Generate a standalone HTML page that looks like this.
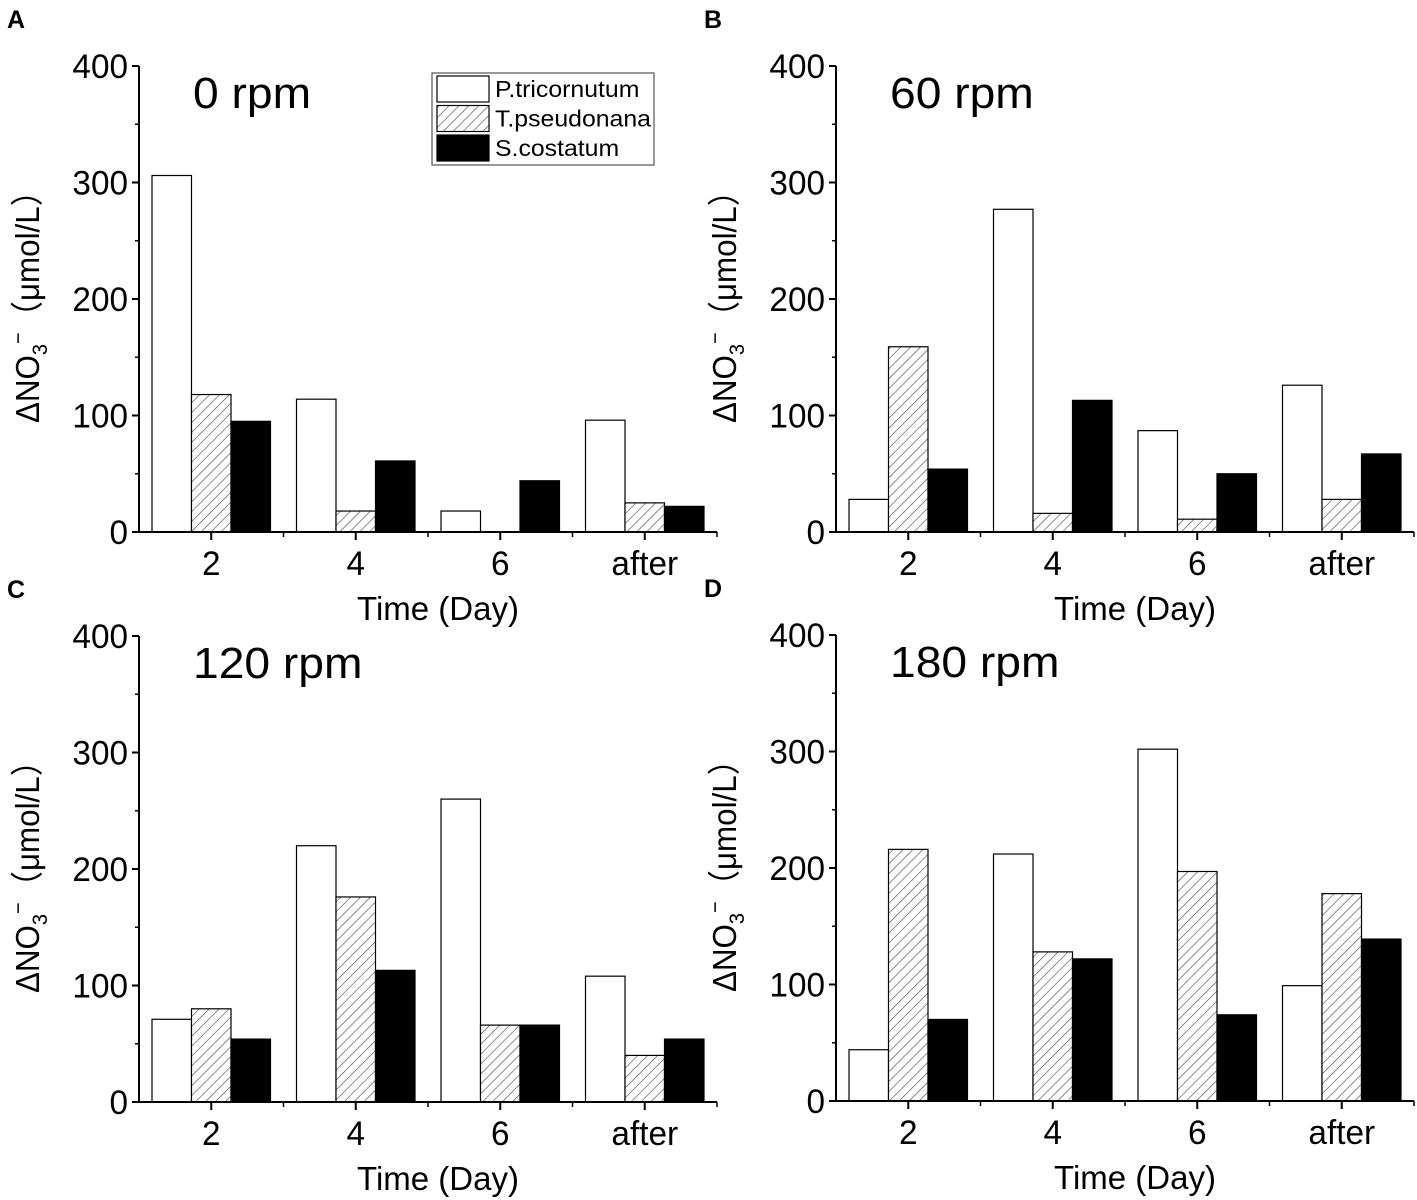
<!DOCTYPE html>
<html><head><meta charset="utf-8"><style>
html,body{margin:0;padding:0;background:#fff;}
svg{display:block;font-family:"Liberation Sans",Arial,sans-serif;}
</style></head><body>
<svg id="fig" width="1417" height="1200" viewBox="0 0 1417 1200" xmlns="http://www.w3.org/2000/svg">
<defs>
<pattern id="hatch" patternUnits="userSpaceOnUse" width="7" height="7" patternTransform="rotate(45)">
<rect width="7" height="7" fill="#fff"/><line x1="0" y1="0" x2="0" y2="7" stroke="#444" stroke-width="1.2"/>
</pattern>
</defs>
</svg>
<script>
const categories = ["2","4","6","after"];
const seriesNames = ["P.tricornutum","T.pseudonana","S.costatum"];
const yTicks = [0,100,200,300,400];
const panelLetters = ["A","B","C","D"];
const panelTitles = ["0 rpm","60 rpm","120 rpm","180 rpm"];
const aPtri = [306,114,18,96];
const aTpse = [118,18,0,25];
const aScos = [95,61,44,22];
const bPtri = [28,277,87,126];
const bTpse = [159,16,11,28];
const bScos = [54,113,50,67];
const cPtri = [71,220,260,108];
const cTpse = [80,176,66,40];
const cScos = [54,113,66,54];
const dPtri = [44,212,302,99];
const dTpse = [216,128,197,178];
const dScos = [70,122,74,139];
const panelData = [[aPtri,aTpse,aScos],[bPtri,bTpse,bScos],[cPtri,cTpse,cScos],[dPtri,dTpse,dScos]];

const svg = document.getElementById('fig');
const NS = "http://www.w3.org/2000/svg";
function mk(tag, attrs, parent){const e=document.createElementNS(NS,tag);for(const k in attrs)e.setAttribute(k,attrs[k]);(parent||svg).appendChild(e);return e;}
function ntext(x,y,size,anchor,parent,sx){return mk('text',{transform:`translate(${x},${y}) scale(${sx||1},1)`,'font-size':size,'text-anchor':anchor},parent);}
const fills = ["#fff","url(#hatch)","#000"];
const layouts = [{x0:139,y0:532},{x0:836,y0:532},{x0:139,y0:1102},{x0:836,y0:1101}];
const plotW = 578, plotH = 466, yMax = 400;

layouts.forEach((L,p)=>{
  const g = mk('g',{});
  
  
  const yS = v => L.y0 - v/yMax*plotH;
  const step = plotW/categories.length;
  const xC = i => L.x0 + step*(i+0.5);
  const bw = 39.5;
  const lt = mk('text',{x:L.x0-132,y:L.y0-504,'font-size':25,'font-weight':'bold'},g);
  lt.textContent = panelLetters[p];
  
  
  panelData[p].forEach((ser,s)=>{
    ser.forEach((v,i)=>{
      const x = xC(i) - bw*1.5 + s*bw;
      const r = mk('rect',{x:x,y:yS(v),width:bw,height:L.y0-yS(v),fill:fills[s],stroke:'#000','stroke-width':1.2},g);
      
      
    });
  });
  const ya = mk('line',{x1:L.x0,y1:L.y0,x2:L.x0,y2:yS(400),stroke:'#000','stroke-width':2},g);
  
  
  const xa = mk('line',{x1:L.x0-7,y1:L.y0,x2:L.x0+plotW,y2:L.y0,stroke:'#000','stroke-width':2},g);
  
  
  yTicks.forEach(t=>{
    mk('line',{x1:L.x0-7,y1:yS(t),x2:L.x0,y2:yS(t),stroke:'#000','stroke-width':2},g);
    if(t<400) mk('line',{x1:L.x0-4,y1:yS(t+50),x2:L.x0,y2:yS(t+50),stroke:'#000','stroke-width':1.5},g);
    const tl = ntext(L.x0-11,yS(t)+12,34,'end',g,0.98);
    tl.textContent = t;
    
    
  });
  categories.forEach((c,i)=>{
    mk('line',{x1:xC(i),y1:L.y0,x2:xC(i),y2:L.y0+8,stroke:'#000','stroke-width':2},g);
    mk('line',{x1:L.x0+step*(i+1),y1:L.y0,x2:L.x0+step*(i+1),y2:L.y0+5,stroke:'#000','stroke-width':1.5},g);
    const tl = ntext(xC(i),L.y0+43,34,'middle',g,0.98);
    tl.textContent = c;
    
    
  });
  const xt = ntext(L.x0+299,L.y0+88,33,'middle',g,1.0);
  xt.textContent = 'Time (Day)';
  
  
  const yt = mk('text',{transform:`translate(${L.x0-100},${L.y0-233}) rotate(-90) scale(0.95,1)`,'font-size':33,'text-anchor':'middle'},g);
  yt.innerHTML = 'ΔNO<tspan font-size="21" dy="8">3</tspan><tspan font-size="21" dy="-22">−</tspan><tspan dy="14">（μmol/L）</tspan>';
  
  
  const tt = ntext(L.x0+54,L.y0-424,44,'start',g,1.05);
  tt.textContent = panelTitles[p];
  
  
});

const lg = mk('g',{});


mk('rect',{x:432,y:73,width:222,height:92,fill:'#fff',stroke:'#555','stroke-width':1.2},lg);
seriesNames.forEach((n,s)=>{
  const y = 76 + s*29.5;
  mk('rect',{x:437,y:y,width:52,height:26,fill:fills[s],stroke:'#000','stroke-width':1.2},lg);
  const t = ntext(495,y+21,23,'start',lg,1.08);
  t.textContent = n;
  
  
});
</script>
</body></html>
